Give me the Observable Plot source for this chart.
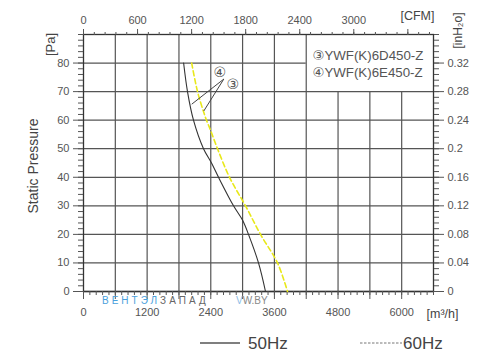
<!DOCTYPE html>
<html>
<head>
<meta charset="utf-8">
<script src="https://cdn.jsdelivr.net/npm/d3@7"></script>
<script src="https://cdn.jsdelivr.net/npm/@observablehq/plot@0.6"></script>
<style>
  html, body { margin: 0; padding: 0; background: #fff; }
  svg { display: block; }
</style>
</head>
<body>
<div id="chart"></div>
<script>
// ---- data ----
const CFM = 1.699; // m3/h per CFM
const pressure50 = [80, 70, 60, 50, 45, 40, 30, 25, 20, 10, 0];
const flow50 =     [1888, 1961, 2074, 2263, 2414, 2546, 2829, 2998, 3111, 3300, 3432];
const pressure60 = [80, 70, 63, 60, 56.5, 50, 40, 30, 20, 10, 0];
const flow60 =     [2040, 2150, 2263, 2319, 2395, 2527, 2753, 3055, 3338, 3658, 3847];

const xLabels = [0, 1200, 2400, 3600, 4800, 6000];
const xGrid = [600, 1200, 1800, 2400, 3000, 3600, 4200, 4800, 5400, 6000];
const cfmLabels = [0, 600, 1200, 1800, 2400, 3000];
const cfmMajor = [0, 600, 1200, 1800, 2400, 3000, 3600];
const paLabels = [0, 10, 20, 30, 40, 50, 60, 70, 80];
const inLabels = ["0", "0.04", "0.08", "0.12", "0.16", "0.2", "0.24", "0.28", "0.32"];

const models = ["③YWF(K)6D450-Z", "④YWF(K)6E450-Z"];
const modelX = [4318, 4318];
const modelY = [82.7, 76.6];
const markerText = ["④", "③"];
const markerX = [2570, 2816];
const markerY = [76.8, 72.6];
const leaderX1 = [2646, 2646], leaderY1 = [74.4, 74.4];
const leaderX2 = [2041, 2268], leaderY2 = [65.6, 63.2];

const series = ["50Hz", "60Hz"];

// ---- tables ----
const d50 = pressure50.map((p, i) => ({p, q: flow50[i]}));
const d60 = pressure60.map((p, i) => ({p, q: flow60[i]}));
const xMinor = d3.range(0, 6601, 120);
const cfmMinor = d3.range(0, 3841, 120).map(c => c * CFM);
const paMinor = d3.range(0, 91, 2);
const inMap = Object.fromEntries(paLabels.map((p, i) => [p, inLabels[i]]));
const modelData = models.map((t, i) => ({t, x: modelX[i], y: modelY[i]}));
const markerData = markerText.map((t, i) => ({t, x: markerX[i], y: markerY[i]}));
const leaders = leaderX1.map((x, i) => ({x1: x, y1: leaderY1[i], x2: leaderX2[i], y2: leaderY2[i]}));

const font = "'Liberation Sans', Arial, 'DejaVu Sans', sans-serif";
const gridC = "#555";

const chart = Plot.plot({
  width: 495,
  height: 364,
  marginLeft: 83,
  marginRight: 62,
  marginTop: 34,
  marginBottom: 73,
  x: {domain: [0, 6600], axis: null},
  y: {domain: [0, 90], axis: null},
  style: {fontFamily: font, color: "#555", background: "#fff", fontSize: "11px"},
  marks: [
    // grid
    Plot.ruleX(xGrid, {y1: 0, y2: d => d > 4200 ? 70 : 90, stroke: gridC, strokeWidth: 1.2}),
    Plot.ruleY(paLabels, {x1: 0, x2: d => d > 70 ? 4200 : 6600, stroke: gridC, strokeWidth: 1.3}),
    Plot.frame({stroke: "#333", strokeWidth: 1.3}),
    // bottom axis
    Plot.axisX(xMinor, {anchor: "bottom", tickSize: 4, fill: "none", stroke: "#555"}),
    Plot.axisX([0, ...xGrid], {anchor: "bottom", tickSize: 8, fill: "none", stroke: "#555"}),
    Plot.axisX(xLabels, {anchor: "bottom", tickSize: 0, tickPadding: 17, fontSize: 11, fill: "#555",
      tickFormat: d => String(d)}),
    // top axis (CFM)
    Plot.axisX(cfmMinor, {anchor: "top", tickSize: 3, fill: "none", stroke: "#555"}),
    Plot.axisX(cfmMajor.map(c => c * CFM), {anchor: "top", tickSize: 6, fill: "none", stroke: "#555"}),
    Plot.axisX(cfmLabels.map(c => c * CFM), {anchor: "top", tickSize: 0, tickPadding: 11, fontSize: 11, fill: "#555",
      tickFormat: d => String(Math.round(d / CFM))}),
    // left axis
    Plot.axisY(paMinor, {anchor: "left", tickSize: 5, fill: "none", stroke: "#555"}),
    Plot.axisY(paLabels, {anchor: "left", tickSize: 10, tickPadding: 4, fontSize: 11, fill: "#555",
      tickFormat: d => String(d)}),
    // right axis (inH2O)
    Plot.axisY(paMinor, {anchor: "right", tickSize: 5, fill: "none", stroke: "#555"}),
    Plot.axisY(paLabels, {anchor: "right", tickSize: 10, tickPadding: 4, fontSize: 11, fill: "#555",
      tickFormat: d => inMap[d]}),
    // axis titles
    Plot.text(["Static Pressure"], {frameAnchor: "left", dx: -50, dy: 3, rotate: -90, fontSize: 14, fill: "#444", textAnchor: "middle", lineAnchor: "middle"}),
    Plot.text(["[Pa]"], {frameAnchor: "top-left", dx: -33, dy: 10, rotate: -90, fontSize: 13, fill: "#444", textAnchor: "middle", lineAnchor: "middle"}),
    Plot.text(["[inH₂o]"], {frameAnchor: "top-right", dx: 25, dy: -4, rotate: -90, fontSize: 12, fill: "#444", textAnchor: "middle", lineAnchor: "middle"}),
    Plot.text(["[CFM]"], {frameAnchor: "top-right", dx: -16, dy: -19, fontSize: 12.5, fill: "#444", textAnchor: "middle", lineAnchor: "middle"}),
    Plot.text(["[m³/h]"], {frameAnchor: "bottom-right", dx: 9, dy: 22, fontSize: 12.5, fill: "#444", textAnchor: "middle", lineAnchor: "middle"}),
    // model labels
    Plot.text(modelData, {x: "x", y: "y", text: "t", fontSize: 13.3, fill: "#555", textAnchor: "start", lineAnchor: "middle"}),
    // curves
    Plot.line(d60, {x: "q", y: "p", curve: "catmull-rom", stroke: "#e8e81a", strokeWidth: 1.6, strokeDasharray: "5,3"}),
    Plot.line(d50, {x: "q", y: "p", curve: "catmull-rom", stroke: "#333", strokeWidth: 1.1}),
    // markers
    Plot.link(leaders, {x1: "x1", y1: "y1", x2: "x2", y2: "y2", stroke: "#444", strokeWidth: 1}),
    Plot.text(markerData, {x: "x", y: "y", text: "t", fontSize: 14, fill: "#555", textAnchor: "middle", lineAnchor: "middle", fontFamily: "'DejaVu Sans', sans-serif"})
  ]
});

document.getElementById("chart").append(chart);

// watermark + series legend (decoration)
const svg = d3.select(chart);
const wm = svg.append("text").attr("x", 102).attr("y", 303.5).attr("text-anchor", "start")
  .attr("font-size", 10).attr("letter-spacing", "3px").attr("font-family", font);
wm.append("tspan").attr("fill", "#4aa0dc").text("ВЕНТЭЛ");
wm.append("tspan").attr("fill", "#666").text("ЗАПАД");
const wm2 = svg.append("text").attr("x", 236).attr("y", 303.5).attr("text-anchor", "start")
  .attr("font-size", 10).attr("font-family", font);
wm2.append("tspan").attr("fill", "#8cbde6").text("V");
wm2.append("tspan").attr("fill", "#888").text("W.BY");

const leg = svg.append("g").attr("font-family", font).attr("text-anchor", "start");
leg.append("line").attr("x1", 200).attr("x2", 240).attr("y1", 343).attr("y2", 343)
  .attr("stroke", "#555").attr("stroke-width", 1.4);
leg.append("text").attr("x", 248).attr("y", 349).attr("font-size", 17).attr("fill", "#444").text(series[0]);
leg.append("line").attr("x1", 360).attr("x2", 402).attr("y1", 343).attr("y2", 343)
  .attr("stroke", "#777").attr("stroke-width", 1).attr("stroke-dasharray", "2.5,1.5");
leg.append("text").attr("x", 403).attr("y", 349).attr("font-size", 17).attr("fill", "#444").text(series[1]);
</script>
</body>
</html>
